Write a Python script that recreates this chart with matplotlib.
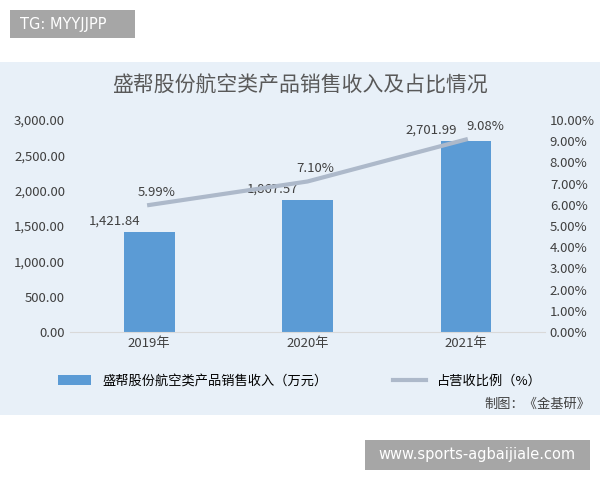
import matplotlib
matplotlib.use("Agg")
import matplotlib.pyplot as plt
from matplotlib.patches import Rectangle
from matplotlib.ticker import FuncFormatter

plt.rcParams['font.family'] = ['Noto Sans CJK SC', 'DejaVu Sans']

years = ["2019年", "2020年", "2021年"]
revenue = [1421.84, 1867.57, 2701.99]
ratio = [5.99, 7.10, 9.08]

W, H = 600, 480
fig = plt.figure(figsize=(6, 4.8), dpi=100)
fig.patch.set_facecolor("white")

fig.patches.append(Rectangle((0, 1 - 415/H), 1, (415-62)/H, transform=fig.transFigure,
                             facecolor="#e8f0f8", edgecolor="none", zorder=-5))
fig.patches.append(Rectangle((10/W, 1 - 38/H), 125/W, 28/H, transform=fig.transFigure,
                             facecolor="#a6a6a6", edgecolor="none", zorder=-4))
fig.text(20/W, 1 - 24/H, "TG: MYYJJPP", color="white", fontsize=10.5, va="center", ha="left",
         family="DejaVu Sans")
fig.patches.append(Rectangle((365/W, 1 - 470/H), 225/W, 30/H, transform=fig.transFigure,
                             facecolor="#a6a6a6", edgecolor="none", zorder=-4))
fig.text(477/W, 1 - 455/H, "www.sports-agbaijiale.com", color="white", fontsize=10.5, va="center",
         ha="center", family="DejaVu Sans")

fig.text(300/W, 1 - 86/H, "盛帮股份航空类产品销售收入及占比情况", fontsize=15, color="#595959",
         ha="center", va="center")

ax = fig.add_axes([70/W, 1 - 332/H, 475/W, (332-120)/H])
ax.set_zorder(2)
ax.set_facecolor("none")
x = range(len(years))
ax.bar(x, revenue, width=0.32, color="#5b9bd5", zorder=2, label="盛帮股份航空类产品销售收入（万元）")
ax.set_ylim(0, 3000)
ax.set_xlim(-0.5, 2.5)
ax.set_yticks([0, 500, 1000, 1500, 2000, 2500, 3000])
ax.yaxis.set_major_formatter(FuncFormatter(lambda v, p: f"{v:,.2f}"))
ax.set_xticks(list(x))
ax.set_xticklabels(years)
for s in ["top", "right", "left"]:
    ax.spines[s].set_visible(False)
ax.spines["bottom"].set_color("#d9d9d9")
ax.tick_params(length=0, colors="#404040", labelsize=9.5)
for i, v in enumerate(revenue):
    ax.text(i - 0.22, v + 60, f"{v:,.2f}", ha="center", va="bottom", fontsize=9.5, color="#404040")

ax2 = ax.twinx()
ax2.set_zorder(3)
ax2.set_facecolor("none")
ax2.plot(list(x), ratio, color="#adb9ca", lw=3, zorder=3, label="占营收比例（%）")
ax2.set_ylim(0, 10)
ax2.set_yticks(range(0, 11))
ax2.yaxis.set_major_formatter(FuncFormatter(lambda v, p: f"{v:.2f}%"))
for s in ["top", "right", "left", "bottom"]:
    ax2.spines[s].set_visible(False)
ax2.tick_params(length=0, colors="#404040", labelsize=9.5)
for i, v in enumerate(ratio):
    ax2.text(i + (0.05 if i < 2 else 0.12), v + 0.3, f"{v:.2f}%", ha="center", va="bottom",
             fontsize=9.5, color="#404040")

h1, l1 = ax.get_legend_handles_labels()
h2, l2 = ax2.get_legend_handles_labels()
fig.legend(h1 + h2, l1 + l2, loc="center", bbox_to_anchor=(300/W, 1 - 381/H), ncol=2,
           frameon=False, fontsize=9.5, columnspacing=5, handlelength=2.5)
fig.text(590/W, 1 - 404/H, "制图：《金基研》", ha="right", va="center", fontsize=9.5, color="#404040")

fig.savefig("out.png", dpi=100)
